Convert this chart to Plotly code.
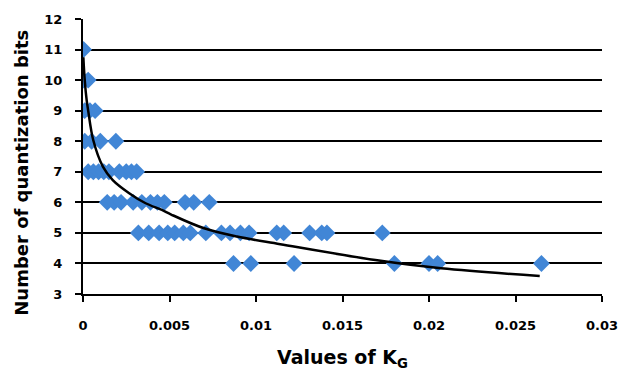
import plotly.graph_objects as go

# Scatter data: K_G values grouped by number of quantization bits
kg_bits11 = [0.00003]
kg_bits10 = [0.00002, 0.0003]
kg_bits9 = [0.0001, 0.0004, 0.0007]
kg_bits8 = [0.0001, 0.0005, 0.0010, 0.0019]
kg_bits7 = [0.0003, 0.0006, 0.0009, 0.0012, 0.0015, 0.0021, 0.0025, 0.0028, 0.0031]
kg_bits6 = [0.0014, 0.0018, 0.0022, 0.0029, 0.0034, 0.0039, 0.0043, 0.0047, 0.0059, 0.0064, 0.0073]
kg_bits5 = [0.0032, 0.0038, 0.0044, 0.0049, 0.0053, 0.0058, 0.0062, 0.0071, 0.0080, 0.0085,
            0.0091, 0.0096, 0.0112, 0.0116, 0.0131, 0.0138, 0.0141, 0.0173]
kg_bits4 = [0.0087, 0.0097, 0.0122, 0.0180, 0.0200, 0.0205, 0.0265]

# Trend line
trend_x = [0.00002, 0.0001, 0.00021, 0.0003, 0.00059, 0.00115, 0.00172, 0.00267, 0.00362,
           0.00456, 0.0051, 0.0070, 0.0089, 0.0114, 0.0169, 0.0207, 0.0264]
trend_y = [10.75, 10.0, 9.35, 9.0, 8.04, 7.17, 6.73, 6.30, 5.97,
           5.75, 5.6, 5.15, 4.88, 4.63, 4.11, 3.84, 3.59]

x_title = "Values of K<sub>G</sub>"
y_title = "Number of quantization bits"

groups = [(11, kg_bits11), (10, kg_bits10), (9, kg_bits9), (8, kg_bits8),
          (7, kg_bits7), (6, kg_bits6), (5, kg_bits5), (4, kg_bits4)]
xs, ys = [], []
for bits, vals in groups:
    xs += vals
    ys += [bits] * len(vals)

fig = go.Figure()
fig.add_trace(go.Scatter(x=xs, y=ys, mode="markers",
                         marker=dict(symbol="diamond", size=13, color="#4186D6"),
                         showlegend=False))
fig.add_trace(go.Scatter(x=trend_x, y=trend_y, mode="lines", line_shape="spline",
                         line=dict(color="black", width=2.5), showlegend=False))

ff = "DejaVu Sans"
fig.update_layout(
    width=630, height=377,
    margin=dict(l=83, r=19, t=19, b=83),
    paper_bgcolor="white", plot_bgcolor="white",
    font=dict(family=ff, color="black"),
    xaxis=dict(range=[0, 0.03], dtick=0.005, showgrid=False, zeroline=False,
               showline=True, linecolor="black", linewidth=2,
               ticks="outside", ticklen=6, tickwidth=2, tickcolor="black",
               ticklabelstandoff=12,
               tickfont=dict(size=13, family=ff, weight="bold")),
    yaxis=dict(range=[3, 12], dtick=1, showgrid=True, gridcolor="black", gridwidth=2,
               zeroline=False, showline=True, linecolor="black", linewidth=2,
               ticks="outside", ticklen=6, tickwidth=2, tickcolor="black",
               ticklabelstandoff=10,
               tickfont=dict(size=13, family=ff, weight="bold")),
    annotations=[
        dict(text=x_title, xref="paper", yref="paper", x=0.5, y=-0.235,
             xanchor="center", yanchor="middle", showarrow=False,
             font=dict(size=19, family=ff, weight="bold")),
        dict(text=y_title, xref="paper", yref="paper", x=-0.12, y=0.44,
             xanchor="center", yanchor="middle", textangle=-90, showarrow=False,
             font=dict(size=18, family=ff, weight="bold")),
    ],
)
fig.write_html("out.html")
